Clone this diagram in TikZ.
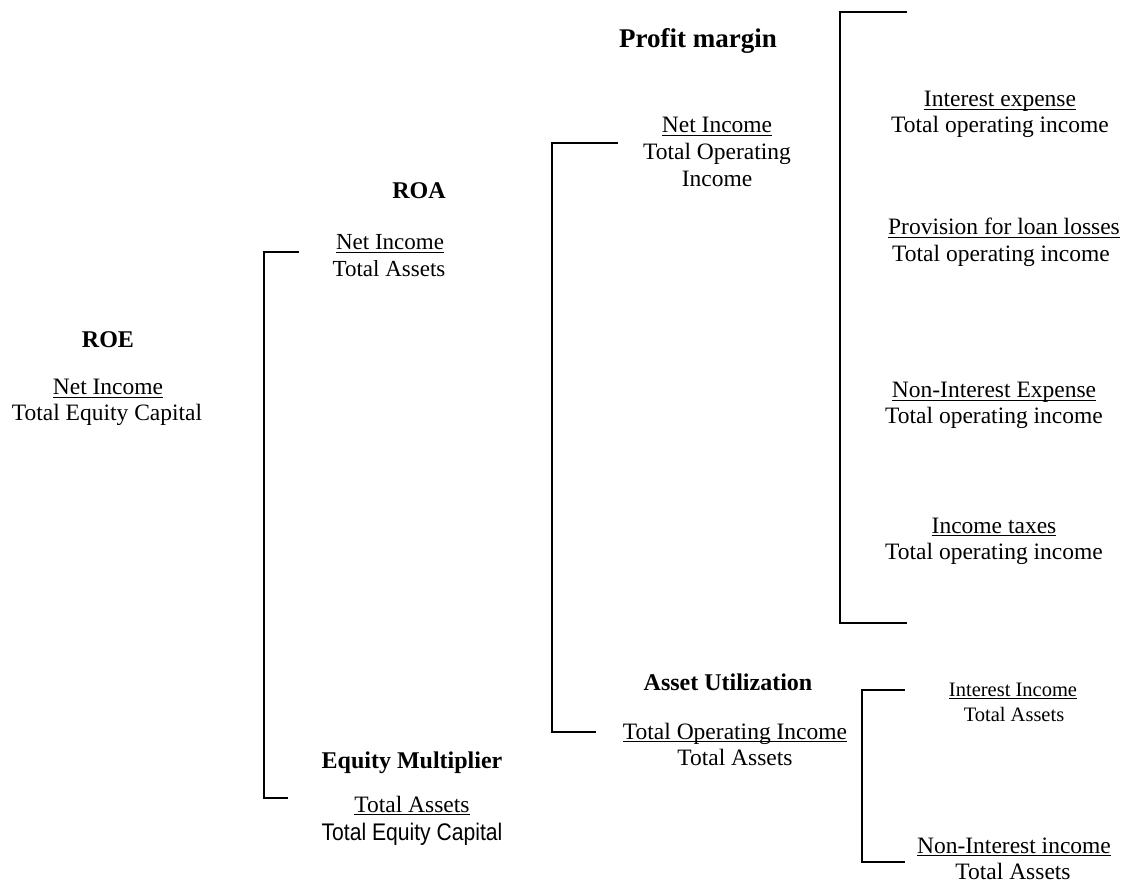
\documentclass[tikz,border=0pt]{standalone}
\usepackage{fontspec}
\setmainfont{Liberation Serif}
\newfontfamily\narrowsans[FakeStretch=0.88]{Liberation Sans}
\newsavebox{\myulbox}
\newcommand{\myul}[1]{\sbox{\myulbox}{#1}\rlap{\rule[-3pt]{\wd\myulbox}{1.1pt}}\usebox{\myulbox}}
\begin{document}
\begin{tikzpicture}[x=1pt,y=-1pt,
  txt/.style={anchor=base,inner sep=0pt,font=\fontsize{23.5}{27}\selectfont},
  stxt/.style={anchor=base,inner sep=0pt,font=\fontsize{23}{27}\selectfont},
  smtxt/.style={anchor=base,inner sep=0pt,font=\fontsize{20.5}{24}\selectfont},
  head/.style={anchor=base,inner sep=0pt,font=\fontsize{24}{28}\selectfont\bfseries},
  bighead/.style={anchor=base,inner sep=0pt,font=\fontsize{27}{31}\selectfont\bfseries},
  sans/.style={anchor=base,inner sep=0pt,font=\fontsize{24}{28}\selectfont\narrowsans},
  bracket/.style={draw=black,line width=1.8pt}]
\useasboundingbox (0,0) rectangle (1136,882);

% ROE
\node[head] (roeh) at (108,348) {ROE};
\node[txt] (roen) at (108,395) {\myul{Net Income}};
\node[txt] (roed) at (107,421) {Total Equity Capital};

% ROA
\node[head] (roah) at (419,199) {ROA};
\node[stxt] (roan) at (390,250) {\myul{Net Income}};
\node[stxt] (road) at (389,277) {Total Assets};

% Equity multiplier
\node[head] (emh) at (412,768) {Equity Multiplier};
\node[txt] (emn) at (412,812) {\myul{Total Assets}};
\node[sans] (emd) at (412,840) {Total Equity Capital};

% Profit margin
\node[bighead] (pmh) at (698,48) {Profit margin};
\node[txt] (pmn) at (717,133) {\myul{Net Income}};
\node[txt] (pmd1) at (717,160) {Total Operating};
\node[txt] (pmd2) at (717,187) {Income};

% Asset utilization
\node[head] (auh) at (728,690) {Asset Utilization};
\node[txt] (aun) at (735,739) {\myul{Total Operating Income}};
\node[txt] (aud) at (735,765) {Total Assets};

% Profit margin components
\node[txt] (ien) at (1000,107) {\myul{Interest expense}};
\node[txt] (ied) at (1000,133) {Total operating income};
\node[txt] (plln) at (1004,235) {\myul{Provision for loan losses}};
\node[txt] (plld) at (1001,262) {Total operating income};
\node[txt] (nien) at (994,398) {\myul{Non-Interest Expense}};
\node[txt] (nied) at (994,424) {Total operating income};
\node[txt] (itn) at (994,533) {\myul{Income taxes}};
\node[txt] (itd) at (994,559) {Total operating income};

% Asset utilization components
\node[smtxt] (iin) at (1013,696) {\myul{Interest Income}};
\node[smtxt] (iid) at (1014,721) {Total Assets};
\node[txt] (niin) at (1014,853) {\myul{Non-Interest income}};
\node[txt] (niid) at (1013,879) {Total Assets};

% bracket coordinates
\coordinate (b1a) at (299,252); \coordinate (b1b) at (264,252);
\coordinate (b1c) at (264,798); \coordinate (b1d) at (288,798);
\coordinate (b2a) at (618,143); \coordinate (b2b) at (552,143);
\coordinate (b2c) at (552,732); \coordinate (b2d) at (596,732);
\coordinate (b3a) at (907,12);  \coordinate (b3b) at (840,12);
\coordinate (b3c) at (840,623); \coordinate (b3d) at (907,623);
\coordinate (b4a) at (905,690); \coordinate (b4b) at (862,690);
\coordinate (b4c) at (862,862); \coordinate (b4d) at (905,862);

\draw[bracket] (b1a) -- (b1b) -- (b1c) -- (b1d);
\draw[bracket] (b2a) -- (b2b) -- (b2c) -- (b2d);
\draw[bracket] (b3a) -- (b3b) -- (b3c) -- (b3d);
\draw[bracket] (b4a) -- (b4b) -- (b4c) -- (b4d);
\end{tikzpicture}
\end{document}
